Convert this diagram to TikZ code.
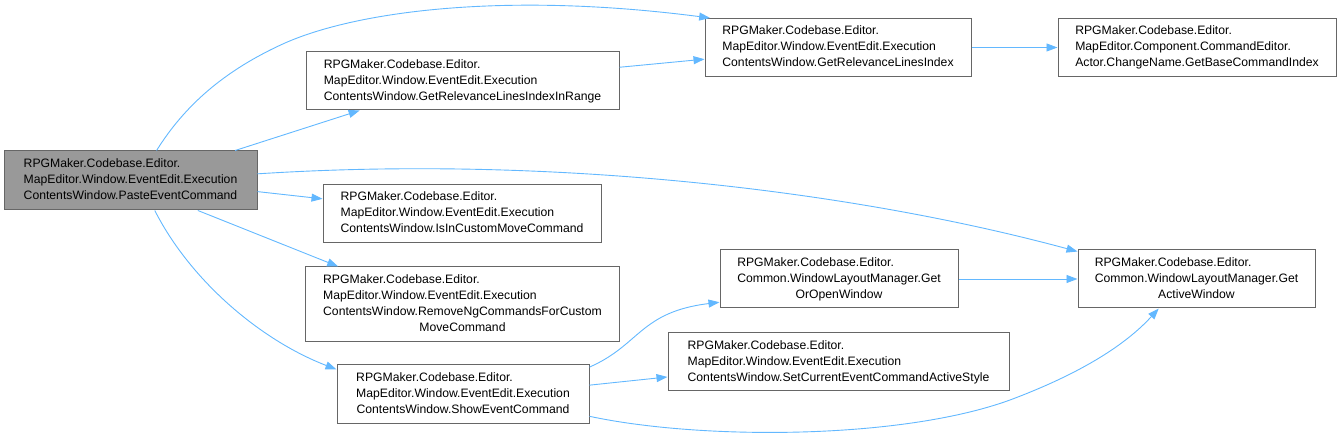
\documentclass[tikz,border=0pt]{standalone}
\usepackage{fontspec}
\setmainfont{Liberation Sans}
\usetikzlibrary{arrows.meta}
\definecolor{edgeblue}{HTML}{63B8FF}
\definecolor{boxborder}{HTML}{666666}
\definecolor{mainfill}{HTML}{999999}
\newcommand{\threelines}[3]{\begin{tabular}{@{}l@{}}#1\\#2\\\multicolumn{1}{@{}c@{}}{#3}\end{tabular}}
\newcommand{\fourlines}[4]{\begin{tabular}{@{}l@{}}#1\\#2\\#3\\\multicolumn{1}{@{}c@{}}{#4}\end{tabular}}
\begin{document}
\begin{tikzpicture}[x=1pt,y=-1pt,
  font=\fontsize{12.2}{16}\selectfont,
  fnbox/.style={draw=boxborder, line width=1pt, fill=white, inner sep=0pt, text=black},
  mainbox/.style={fnbox, fill=mainfill},
  callarrow/.style={draw=edgeblue, line width=0.9pt, -{Triangle[length=11pt,width=8pt]}}]
\useasboundingbox (0,0) rectangle (1342,438);

\node[mainbox, minimum width=253pt, minimum height=59pt] (main) at (130.5,180.5)
  {\threelines{RPGMaker.Codebase.Editor.}{MapEditor.Window.EventEdit.Execution}{ContentsWindow.PasteEventCommand}};
\node[fnbox, minimum width=313pt, minimum height=58pt] (inrange) at (462.5,81)
  {\threelines{RPGMaker.Codebase.Editor.}{MapEditor.Window.EventEdit.Execution}{ContentsWindow.GetRelevanceLinesIndexInRange}};
\node[fnbox, minimum width=266pt, minimum height=58pt] (gli) at (838,47.5)
  {\threelines{RPGMaker.Codebase.Editor.}{MapEditor.Window.EventEdit.Execution}{ContentsWindow.GetRelevanceLinesIndex}};
\node[fnbox, minimum width=278pt, minimum height=58pt] (gbci) at (1197,47.5)
  {\threelines{RPGMaker.Codebase.Editor.}{MapEditor.Component.CommandEditor.}{Actor.ChangeName.GetBaseCommandIndex}};
\node[fnbox, minimum width=278pt, minimum height=58pt] (isin) at (462,213.5)
  {\threelines{RPGMaker.Codebase.Editor.}{MapEditor.Window.EventEdit.Execution}{ContentsWindow.IsInCustomMoveCommand}};
\node[fnbox, minimum width=314pt, minimum height=75pt] (removeng) at (462.5,304.5)
  {\fourlines{RPGMaker.Codebase.Editor.}{MapEditor.Window.EventEdit.Execution}{ContentsWindow.RemoveNgCommandsForCustom}{MoveCommand}};
\node[fnbox, minimum width=252pt, minimum height=58pt] (show) at (463,394)
  {\threelines{RPGMaker.Codebase.Editor.}{MapEditor.Window.EventEdit.Execution}{ContentsWindow.ShowEventCommand}};
\node[fnbox, minimum width=238pt, minimum height=58pt] (getoropen) at (839,279)
  {\threelines{RPGMaker.Codebase.Editor.}{Common.WindowLayoutManager.Get}{OrOpenWindow}};
\node[fnbox, minimum width=341pt, minimum height=58pt] (setcur) at (838.5,362)
  {\threelines{RPGMaker.Codebase.Editor.}{MapEditor.Window.EventEdit.Execution}{ContentsWindow.SetCurrentEventCommandActiveStyle}};
\node[fnbox, minimum width=237pt, minimum height=58pt] (getactive) at (1196.5,279)
  {\threelines{RPGMaker.Codebase.Editor.}{Common.WindowLayoutManager.Get}{ActiveWindow}};

% connectors
\draw[callarrow] (main.49) .. controls (185,105) and (225,70) .. (285,43)
  .. controls (360,10) and (510,-8) .. (gli.167);
\draw[callarrow] (main.16.7) -- (inrange.196);
\draw[callarrow] (inrange.5) -- (gli.185.4);
\draw[callarrow] (gli.east) -- (gbci.west);
\draw[callarrow] (main.3.8) .. controls (550,155) and (850,190) .. (getactive.167.6);
\draw[callarrow] (main.-5.6) -- (isin.174.5);
\draw[callarrow] (main.-24) -- (removeng.163.7);
\draw[callarrow] (main.-51.5) .. controls (190,280) and (260,340) .. (show.169.2);
\draw[callarrow] (show.12.5) .. controls (640,345) and (640,312) .. (getoropen.191);
\draw[callarrow] (show.4.5) -- (setcur.185);
\draw[callarrow] (show.-10.3) .. controls (700,440) and (900,440) .. (1010,400)
  .. controls (1090,370) and (1130,340) .. (getactive.218.5);
\draw[callarrow] (getoropen.east) -- (getactive.west);
\end{tikzpicture}
\end{document}
